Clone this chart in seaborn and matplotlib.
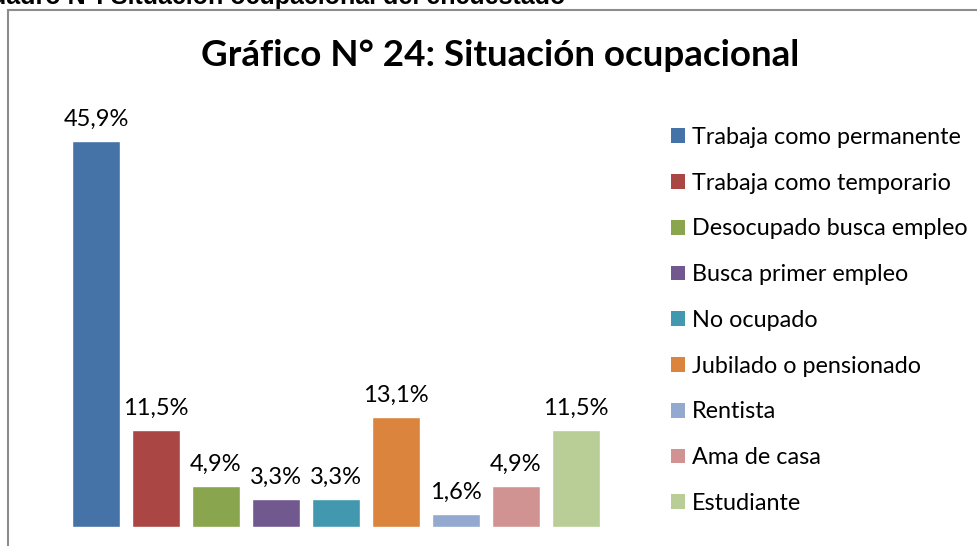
import seaborn as sns
import matplotlib.pyplot as plt
import pandas as pd
from matplotlib.patches import Patch, Rectangle

categorias = ["Trabaja como permanente", "Trabaja como temporario",
              "Desocupado busca empleo", "Busca primer empleo", "No ocupado",
              "Jubilado o pensionado", "Rentista", "Ama de casa", "Estudiante"]
porcentajes = [45.9, 11.5, 4.9, 3.3, 3.3, 13.1, 1.6, 4.9, 11.5]
etiquetas = ["45,9%", "11,5%", "4,9%", "3,3%", "3,3%", "13,1%", "1,6%", "4,9%", "11,5%"]
colores = ["#4572A7", "#AA4643", "#89A54E", "#71588F", "#4198AF",
           "#DB843D", "#93A9CF", "#D19392", "#B9CD96"]

sns.set_theme(style="white")
plt.rcParams['font.family'] = ['Lato', 'DejaVu Sans']

df = pd.DataFrame({"cat": categorias, "pct": porcentajes})

fig = plt.figure(figsize=(9.78, 5.46), dpi=100)
ax = fig.add_axes([66/978, 1-527/546, 540/978, 420/546])
sns.barplot(data=df, x="cat", y="pct", hue="cat", palette=colores,
            order=categorias, hue_order=categorias, width=0.8,
            saturation=1, legend=False, ax=ax)
ax.set_ylim(0, 50)
ax.set_xlim(-0.5, len(categorias)-0.5)
ax.axis("off")

for i, (v, t) in enumerate(zip(porcentajes, etiquetas)):
    ax.annotate(t, (i, v), xytext=(0, 8), textcoords="offset points",
                ha="center", va="bottom", fontsize=17, color="black")

handles = [Patch(facecolor=c, edgecolor="none") for c in colores]
fig.legend(handles, categorias, loc="upper left",
           bbox_to_anchor=(671/978, 1-127/546), frameon=False,
           fontsize=16.8, handlelength=0.6, handleheight=0.6,
           handletextpad=0.28, labelspacing=1.06, borderpad=0,
           borderaxespad=0, labelcolor="black")

fig.text(500/978, 1-55/546, "Gráfico N° 24: Situación ocupacional",
         ha="center", va="center", fontsize=26.5, fontweight="bold",
         color="black")

fig.text(565/978, 1-4/546, "Cuadro N°: Situación ocupacional del encuestado",
         ha="right", va="baseline", fontsize=18, fontweight="bold",
         family="Liberation Sans", color="black")

fig.add_artist(Rectangle((8/978, -0.1), 2, 1.1-10/546, transform=fig.transFigure,
                         fill=False, edgecolor="#8c8c8c", lw=1.5))

fig.savefig("out.png", dpi=100)
